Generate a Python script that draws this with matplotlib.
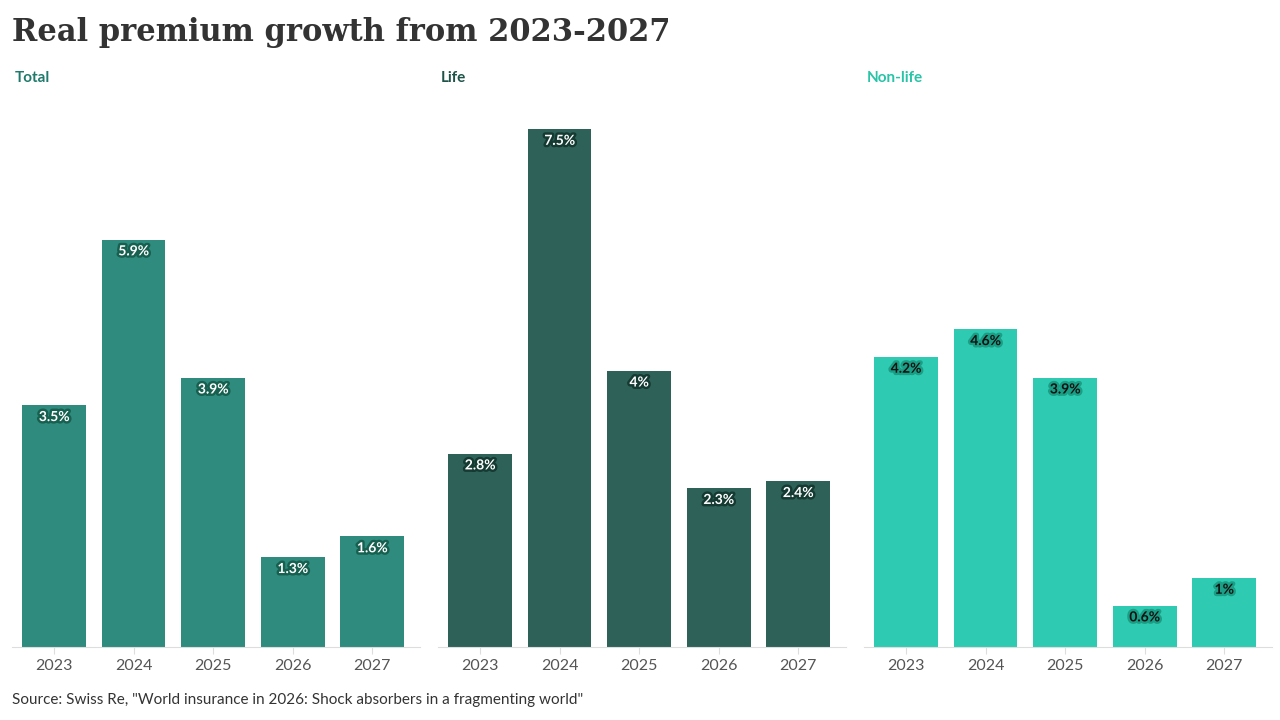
import numpy as np
import matplotlib.pyplot as plt
import matplotlib.patheffects as pe

years = ["2023", "2024", "2025", "2026", "2027"]
panels = ["Total", "Life", "Non-life"]
total = [3.5, 5.9, 3.9, 1.3, 1.6]
life = [2.8, 7.5, 4.0, 2.3, 2.4]
nonlife = [4.2, 4.6, 3.9, 0.6, 1.0]
labels_total = ["3.5%", "5.9%", "3.9%", "1.3%", "1.6%"]
labels_life = ["2.8%", "7.5%", "4%", "2.3%", "2.4%"]
labels_nonlife = ["4.2%", "4.6%", "3.9%", "0.6%", "1%"]

bar_colors = ["#2e8b7e", "#2e6158", "#2ecbb2"]
title_colors = ["#1f7a6b", "#1e5448", "#27c4a8"]
text_colors = ["white", "white", "#111111"]
halo_colors = ["#17604f", "#143a32", "#1a9f86"]

fig = plt.figure(figsize=(12.8, 7.2), dpi=100)

fig.text(12 / 1280, 1 - 32 / 720, "Real premium growth from 2023-2027",
         family="DejaVu Serif", weight="bold", fontsize=22, color="#333333",
         va="center", ha="left")

series = [total, life, nonlife]
labels = [labels_total, labels_life, labels_nonlife]
x = np.arange(len(years))

for i in range(3):
    left = (12 + 426 * i) / 1280
    ax = fig.add_axes([left, 73 / 720, 408 / 1280, 518 / 720])
    ax.bar(x, series[i], width=0.8, color=bar_colors[i])
    ax.set_xlim(-0.53, 4.6)
    ax.set_ylim(0, 7.5)
    for s in ["top", "right", "left"]:
        ax.spines[s].set_visible(False)
    ax.spines["bottom"].set_color("#dddddd")
    ax.set_yticks([])
    ax.set_xticks(x)
    ax.set_xticklabels(years, family="Lato", fontsize=11.5, color="#555555")
    ax.tick_params(axis="x", length=5, color="#dddddd", pad=4)
    for xi, v, lab in zip(x, series[i], labels[i]):
        ax.annotate(lab, (xi, v), xytext=(0, -8.5), textcoords="offset points",
                    ha="center", va="center", family="Lato", weight="bold",
                    fontsize=10, color=text_colors[i],
                    path_effects=[pe.withStroke(linewidth=3.5, foreground=halo_colors[i])])
    fig.text(left + 3 / 1280, 1 - 78 / 720, panels[i], family="Lato",
             weight="bold", fontsize=11, color=title_colors[i],
             va="center", ha="left")

fig.text(12 / 1280, 1 - 700 / 720,
         'Source: Swiss Re, "World insurance in 2026: Shock absorbers in a fragmenting world"',
         family="Lato", fontsize=11, color="#333333", va="center", ha="left")

fig.savefig("out.png", dpi=100)
